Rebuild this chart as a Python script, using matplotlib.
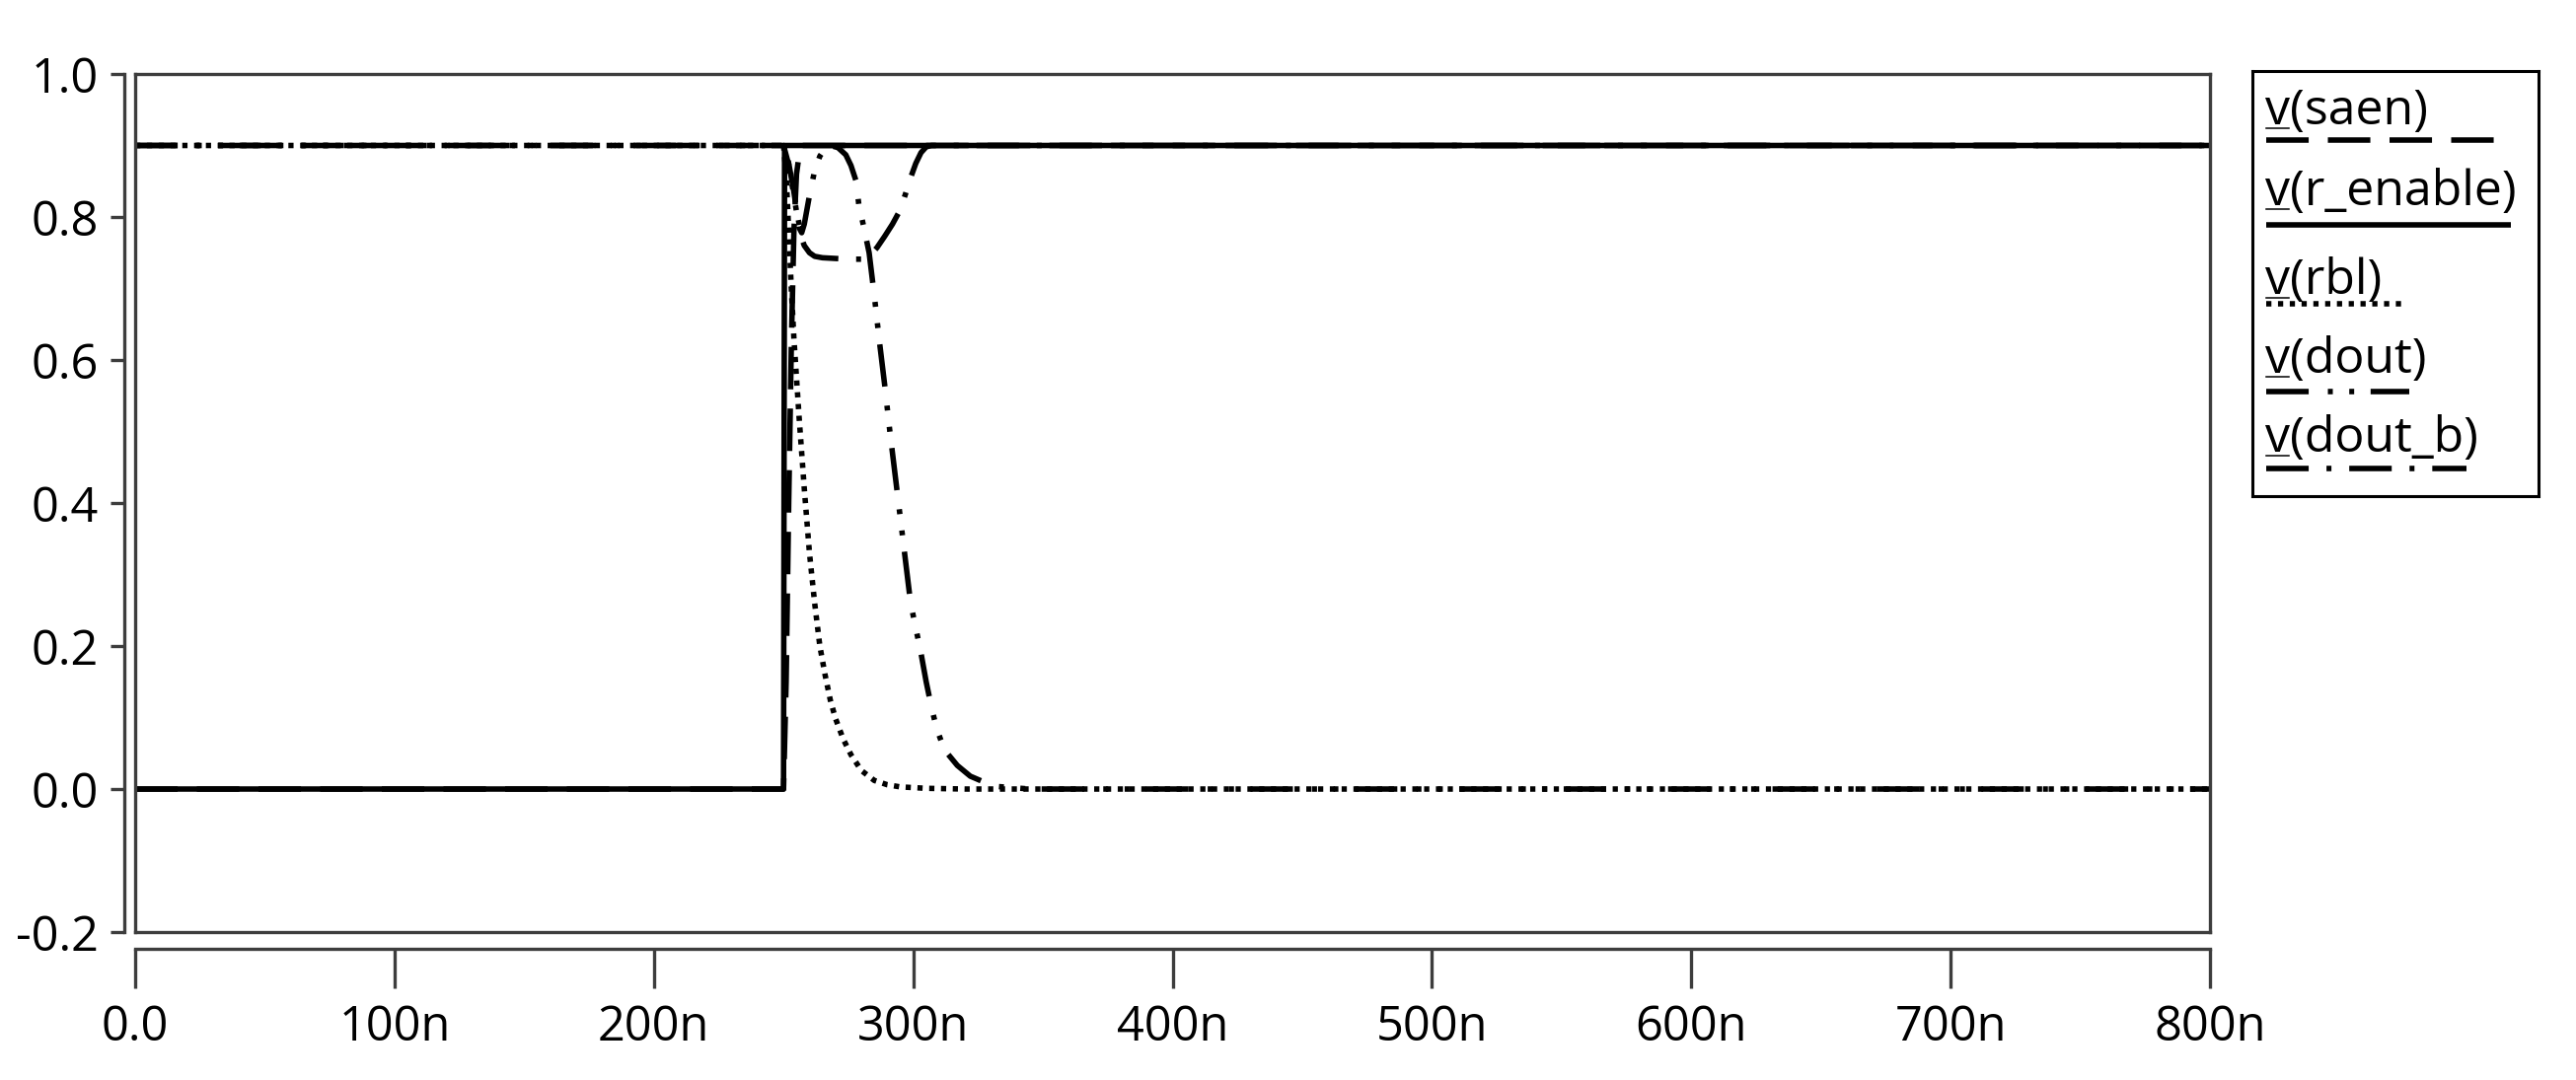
#transient plot of the read path: saen, r_enable, rbl, dout, dout_b

import matplotlib.pyplot as plt

plt.rcParams['font.family'] = ['Open Sans', 'DejaVu Sans']
plt.rcParams['lines.scale_dashes'] = False

# time in ns, voltage in V
r_enable_t = [0, 250, 250.4, 800]
r_enable_v = [0, 0, 0.9, 0.9]

saen_t = [0, 250, 251, 252, 253, 254, 255, 256.5, 800]
saen_v = [0, 0, 0.15, 0.4, 0.62, 0.78, 0.86, 0.9, 0.9]

rbl_t = [0, 250, 251, 252, 253, 254, 256, 258, 260, 262, 264, 266, 268, 270,
         273, 276, 280, 285, 290, 295, 305, 320, 800]
rbl_v = [0.9, 0.9, 0.86, 0.78, 0.7, 0.63, 0.52, 0.42, 0.33, 0.26, 0.2, 0.16,
         0.125, 0.099, 0.07, 0.048, 0.026, 0.012, 0.006, 0.003, 0.001, 0, 0]

dout_t = [0, 250, 252, 254, 256, 257, 258, 260, 262, 264, 266, 268, 271, 274,
          276, 278, 279, 281, 283, 285, 287, 289, 291, 293, 295, 297, 299, 301,
          303, 305, 307, 309, 312, 317, 322, 331, 345, 800]
dout_v = [0.9, 0.9, 0.873, 0.83, 0.785, 0.778, 0.79, 0.83, 0.865, 0.885, 0.896,
          0.9, 0.897, 0.887, 0.872, 0.85, 0.818, 0.785, 0.75, 0.69, 0.625,
          0.565, 0.5, 0.44, 0.38, 0.32, 0.26, 0.225, 0.19, 0.15, 0.115, 0.085,
          0.055, 0.033, 0.018, 0.004, 0, 0]

dout_b_t = [0, 250, 251, 252, 253, 254, 255, 256, 257, 258, 260, 262, 265, 270,
            275, 280, 283, 286, 289, 292, 295, 297, 299, 301, 303, 305, 307, 800]
dout_b_v = [0.9, 0.9, 0.89, 0.875, 0.855, 0.835, 0.81, 0.79, 0.77, 0.76, 0.75,
            0.745, 0.743, 0.742, 0.741, 0.741, 0.745, 0.757, 0.773, 0.79, 0.81,
            0.832, 0.855, 0.875, 0.89, 0.898, 0.9, 0.9]

x_ticks = [0, 100, 200, 300, 400, 500, 600, 700, 800]
x_ticklabels = ['0.0', '100n', '200n', '300n', '400n', '500n', '600n', '700n', '800n']
y_ticks = [-0.2, 0.0, 0.2, 0.4, 0.6, 0.8, 1.0]
y_ticklabels = ['-0.2', '0.0', '0.2', '0.4', '0.6', '0.8', '1.0']

names = ['v(saen)', 'v(r_enable)', 'v(rbl)', 'v(dout)', 'v(dout_b)']

# line styles (dash lengths in points)
styles = [
    dict(dashes=(31, 14)),
    dict(),
    dict(dashes=(3.8, 4.8)),
    dict(dashes=(31, 14, 3.6, 12, 3.6, 12)),
    dict(dashes=(31, 13, 3.6, 13)),
]

W, H = 2611, 1095
fig = plt.figure(figsize=(W / 100, H / 100), dpi=100)


def box(l, t, r, b):
    return [l / W, 1 - b / H, (r - l) / W, (b - t) / H]


frame_col = '#3d3d3d'
lw = 4.0
fs = 35

ax = fig.add_axes(box(137, 75, 2240, 945))
series = [(saen_t, saen_v), (r_enable_t, r_enable_v), (rbl_t, rbl_v),
          (dout_t, dout_v), (dout_b_t, dout_b_v)]
for (t, v), st in zip(series, styles):
    ax.plot(t, v, color='black', lw=lw, solid_capstyle='butt', **st)
ax.set_xlim(0, 800)
ax.set_ylim(-0.2, 1.0)
ax.set_xticks([])
ax.set_yticks([])
for s in ax.spines.values():
    s.set_color(frame_col)
    s.set_linewidth(2.4)

# y ruler left of the plot box
ay = fig.add_axes(box(126, 75, 127, 945))
ay.patch.set_visible(False)
ay.set_ylim(-0.2, 1.0)
ay.set_xticks([])
ay.set_yticks(y_ticks)
ay.set_yticklabels(y_ticklabels)
for k in ['top', 'right', 'bottom']:
    ay.spines[k].set_visible(False)
ay.spines['left'].set_color(frame_col)
ay.spines['left'].set_linewidth(2.4)
ay.tick_params(axis='y', direction='out', length=10, width=2.4, color=frame_col,
               pad=9, labelsize=fs)

# x ruler below the plot box
axx = fig.add_axes(box(137, 961, 2240, 962))
axx.patch.set_visible(False)
axx.set_xlim(0, 800)
axx.set_yticks([])
axx.set_xticks(x_ticks)
axx.set_xticklabels(x_ticklabels)
for k in ['top', 'right', 'left']:
    axx.spines[k].set_visible(False)
axx.spines['bottom'].set_color(frame_col)
axx.spines['bottom'].set_linewidth(2.4)
axx.tick_params(axis='x', direction='out', length=29, width=2.4, color=frame_col,
                pad=11, labelsize=fs)

# legend panel, drawn in pixel offsets from its top-left corner
lx0, ly0 = 2283, 72
lax = fig.add_axes(box(lx0, ly0, 2573, 503))
lax.set_xlim(0, 2573 - lx0)
lax.set_ylim(503 - ly0, 0)
lax.set_xticks([])
lax.set_yticks([])
for s in lax.spines.values():
    s.set_color('black')
    s.set_linewidth(2.2)

text_base = [126, 208, 298, 378, 458]
line_y = [142, 228, 308, 397, 475]
line_end = [2530, 2545, 2440, 2442, 2500]
for name, st, tb, ly, le in zip(names, styles, text_base, line_y, line_end):
    lax.text(2296 - lx0, tb - ly0, name, fontsize=36, va='baseline', ha='left')
    lax.plot([2297 - lx0, 2320 - lx0], [tb - ly0 + 4, tb - ly0 + 4],
             color='black', lw=1.1)
    lax.plot([2297 - lx0, le - lx0], [ly - ly0, ly - ly0], color='black',
             lw=lw, solid_capstyle='butt', **st)

fig.savefig('out.png', dpi=100)
